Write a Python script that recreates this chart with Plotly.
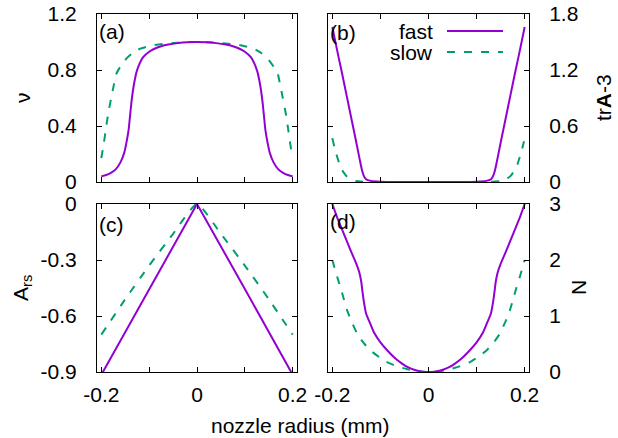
import plotly.graph_objects as go

# ---------------- data ----------------
# (a) velocity nu
r_a_fast = [-0.2, -0.19, -0.18, -0.17, -0.16, -0.152, -0.147, -0.143, -0.14, -0.137, -0.134, -0.13,
            -0.126, -0.12, -0.113, -0.1, -0.09, -0.075, -0.06, -0.04, -0.02, 0.0,
            0.02, 0.04, 0.06, 0.075, 0.09, 0.1, 0.113, 0.12, 0.126, 0.13, 0.134, 0.137, 0.14,
            0.143, 0.147, 0.152, 0.16, 0.17, 0.18, 0.19, 0.2]
nu_fast = [0.04, 0.05, 0.066, 0.09, 0.14, 0.21, 0.29, 0.37, 0.47, 0.57, 0.65, 0.73,
           0.79, 0.845, 0.89, 0.93, 0.95, 0.97, 0.982, 0.992, 0.998, 1.0,
           0.998, 0.992, 0.982, 0.97, 0.95, 0.93, 0.89, 0.845, 0.79, 0.73, 0.65, 0.57, 0.47,
           0.37, 0.29, 0.21, 0.14, 0.09, 0.066, 0.05, 0.04]
r_a_slow = [-0.2, -0.195, -0.19, -0.185, -0.179, -0.174, -0.169, -0.16, -0.148, -0.135, -0.12, -0.1,
            -0.085, -0.06, -0.04, -0.02, 0.0, 0.02, 0.04, 0.06, 0.085, 0.1, 0.12, 0.135, 0.148,
            0.16, 0.169, 0.174, 0.179, 0.185, 0.19, 0.195, 0.2]
nu_slow = [0.17, 0.27, 0.39, 0.50, 0.605, 0.69, 0.77, 0.825, 0.88, 0.92, 0.95, 0.97,
           0.98, 0.99, 0.995, 0.999, 1.0, 0.999, 0.995, 0.99, 0.98, 0.97, 0.95, 0.92, 0.88,
           0.825, 0.77, 0.69, 0.605, 0.50, 0.39, 0.27, 0.17]

# (b) trA - 3
r_b_fast = [-0.2, -0.19, -0.18, -0.17, -0.16, -0.15, -0.143, -0.138, -0.134, -0.13, -0.12, -0.1, -0.06, 0.0,
            0.06, 0.1, 0.12, 0.13, 0.134, 0.138, 0.143, 0.15, 0.16, 0.17, 0.18, 0.19, 0.2]
trA_fast = [1.66, 1.41, 1.17, 0.92, 0.67, 0.42, 0.24, 0.12, 0.06, 0.03, 0.012, 0.004, 0.001, 0.0,
            0.001, 0.004, 0.012, 0.03, 0.06, 0.12, 0.24, 0.42, 0.67, 0.92, 1.17, 1.41, 1.66]
r_b_slow = [-0.2, -0.195, -0.19, -0.185, -0.18, -0.17, -0.16, -0.15, -0.13, -0.1, 0.0,
            0.1, 0.13, 0.15, 0.16, 0.17, 0.18, 0.185, 0.19, 0.195, 0.2]
trA_slow = [0.47, 0.36, 0.27, 0.19, 0.13, 0.06, 0.025, 0.01, 0.002, 0.0, 0.0,
            0.0, 0.002, 0.01, 0.025, 0.06, 0.13, 0.19, 0.27, 0.36, 0.47]

# (c) A_rs
r_c_fast = [-0.2, -0.1, 0.0, 0.1, 0.2]
Ars_fast = [-0.915, -0.455, 0.0, -0.455, -0.915]
r_c_slow = [-0.2, -0.15, -0.1, -0.05, 0.0, 0.05, 0.1, 0.15, 0.2]
Ars_slow = [-0.70, -0.51, -0.33, -0.16, 0.0, -0.16, -0.33, -0.51, -0.70]

# (d) N
r_d_fast = [-0.2, -0.19, -0.18, -0.17, -0.16, -0.15, -0.144, -0.14, -0.1375, -0.1345, -0.13, -0.12,
            -0.113, -0.1, -0.085, -0.07, -0.055, -0.044, -0.03, -0.015, 0.0,
            0.015, 0.03, 0.044, 0.055, 0.07, 0.085, 0.1, 0.113, 0.12, 0.13, 0.1345, 0.1375, 0.14,
            0.144, 0.15, 0.16, 0.17, 0.18, 0.19, 0.2]
N_fast = [3.0, 2.76, 2.55, 2.34, 2.13, 1.93, 1.78, 1.62, 1.45, 1.26, 1.05, 0.84,
          0.70, 0.53, 0.38, 0.25, 0.15, 0.09, 0.04, 0.01, 0.0,
          0.01, 0.04, 0.09, 0.15, 0.25, 0.38, 0.53, 0.70, 0.84, 1.05, 1.26, 1.45, 1.62,
          1.78, 1.93, 2.13, 2.34, 2.55, 2.76, 3.0]
r_d_slow = [-0.2, -0.19, -0.183, -0.176, -0.169, -0.16, -0.148, -0.135, -0.12, -0.1, -0.085, -0.065,
            -0.044, -0.025, 0.0, 0.025, 0.044, 0.065, 0.085, 0.1, 0.12, 0.135, 0.148, 0.16,
            0.169, 0.176, 0.183, 0.19, 0.2]
N_slow = [2.0, 1.70, 1.51, 1.30, 1.095, 0.90, 0.68, 0.52, 0.38, 0.25, 0.17, 0.10,
          0.05, 0.015, 0.0, 0.015, 0.05, 0.10, 0.17, 0.25, 0.38, 0.52, 0.68, 0.90,
          1.095, 1.30, 1.51, 1.70, 2.0]

x_tickvals = [-0.2, 0.0, 0.2]
x_ticktext = ["-0.2", "0", "0.2"]
x_minorvals = [-0.1, 0.1]
labels = ["(a)", "(b)", "(c)", "(d)"]
series_names = ["fast", "slow"]

# ---------------- style ----------------
PURPLE = "#9400D3"
GREEN = "#009E73"
FONT = "Liberation Sans, Arial, Helvetica, sans-serif"
FS = 21
W, H = 618, 438
DASH = "8px,9px"


def fx(x):
    return x / W


def fy(y):
    return 1 - y / H


fig = go.Figure()


def add(r, v, color, dash, xa, ya, shape="spline"):
    fig.add_trace(go.Scatter(x=r, y=v, mode="lines",
                             line=dict(color=color, width=2, dash=dash, shape=shape,
                                       smoothing=0.5 if shape == "spline" else None),
                             xaxis=xa, yaxis=ya, showlegend=False, hoverinfo="skip"))


add(r_a_slow, nu_slow, GREEN, DASH, "x", "y")
add(r_a_fast, nu_fast, PURPLE, "solid", "x", "y")
add(r_b_slow, trA_slow, GREEN, DASH, "x2", "y2")
add(r_b_fast, trA_fast, PURPLE, "solid", "x2", "y2")
add(r_c_slow, Ars_slow, GREEN, DASH, "x3", "y3")
add(r_c_fast, Ars_fast, PURPLE, "solid", "x3", "y3", shape="linear")
add(r_d_slow, N_slow, GREEN, DASH, "x4", "y4")
add(r_d_fast, N_fast, PURPLE, "solid", "x4", "y4")

common = dict(showline=True, linecolor="black", linewidth=1, mirror="allticks",
              ticks="inside", ticklen=5, tickcolor="black", tickwidth=1,
              showgrid=False, zeroline=False, automargin=False,
              tickfont=dict(family=FONT, size=FS, color="black"))

dom_left = [fx(97), fx(297)]
dom_right = [fx(328), fx(529)]
dom_top = [fy(182), fy(14)]
dom_bot = [fy(372), fy(204)]
xr = [-0.209, 0.209]

minor = dict(tickvals=x_minorvals, ticks="inside", ticklen=5, tickcolor="black", tickwidth=1,
             showgrid=False)
xa_top = dict(common, range=xr, tickvals=x_tickvals, showticklabels=False, minor=minor)
xa_bot = dict(common, range=xr, tickvals=x_tickvals, ticktext=x_ticktext, ticklabelstandoff=4,
              minor=minor)

fig.update_layout(
    template="none",
    width=W, height=H, margin=dict(l=0, r=0, t=0, b=0, pad=0, autoexpand=False),
    paper_bgcolor="white", plot_bgcolor="white",
    font=dict(family=FONT, size=FS, color="black"),
    xaxis=dict(xa_top, domain=dom_left, anchor="y"),
    xaxis2=dict(xa_top, domain=dom_right, anchor="y2"),
    xaxis3=dict(xa_bot, domain=dom_left, anchor="y3"),
    xaxis4=dict(xa_bot, domain=dom_right, anchor="y4"),
    yaxis=dict(common, domain=dom_top, anchor="x", range=[0, 1.2],
               tickvals=[0, 0.4, 0.8, 1.2], ticktext=["0", "0.4", "0.8", "1.2"], ticklabelstandoff=15),
    yaxis2=dict(common, domain=dom_top, anchor="x2", side="right", range=[0, 1.8],
                tickvals=[0, 0.6, 1.2, 1.8], ticktext=["0", "0.6", "1.2", "1.8"], ticklabelstandoff=15),
    yaxis3=dict(common, domain=dom_bot, anchor="x3", range=[-0.9, 0],
                tickvals=[-0.9, -0.6, -0.3, 0], ticktext=["-0.9", "-0.6", "-0.3", "0"], ticklabelstandoff=15),
    yaxis4=dict(common, domain=dom_bot, anchor="x4", side="right", range=[0, 3],
                tickvals=[0, 1, 2, 3], ticktext=["0", "1", "2", "3"], ticklabelstandoff=15),
)

ann = []


def text(x, y, s, angle=0, xanchor="center"):
    ann.append(dict(x=fx(x), y=fy(y), xref="paper", yref="paper", text=s, showarrow=False,
                    textangle=angle, xanchor=xanchor, yanchor="middle", borderpad=0,
                    font=dict(family=FONT, size=FS, color="black")))


# axis titles
text(23, 98, "ν", -90)
text(22, 288, "A<sub>rs</sub>", -90)
text(604, 98, "tr<b>A</b>-3", -90)
text(578, 288, "N", -90)
text(300, 425, "nozzle radius (mm)")

# panel labels
text(98, 31, labels[0], xanchor="left")
text(329, 33, labels[1], xanchor="left")
text(98, 224, labels[2], xanchor="left")
text(329, 221, labels[3], xanchor="left")

# legend text
text(434, 31, series_names[0], xanchor="right")
text(434, 52, series_names[1], xanchor="right")

fig.update_layout(annotations=ann)

fig.update_layout(shapes=[
    dict(type="line", xref="paper", yref="paper", x0=fx(447), x1=fx(503), y0=fy(31), y1=fy(31),
         line=dict(color=PURPLE, width=2)),
    dict(type="line", xref="paper", yref="paper", x0=fx(447), x1=fx(503), y0=fy(52), y1=fy(52),
         line=dict(color=GREEN, width=2, dash=DASH)),
])

fig.write_html("out.html")
